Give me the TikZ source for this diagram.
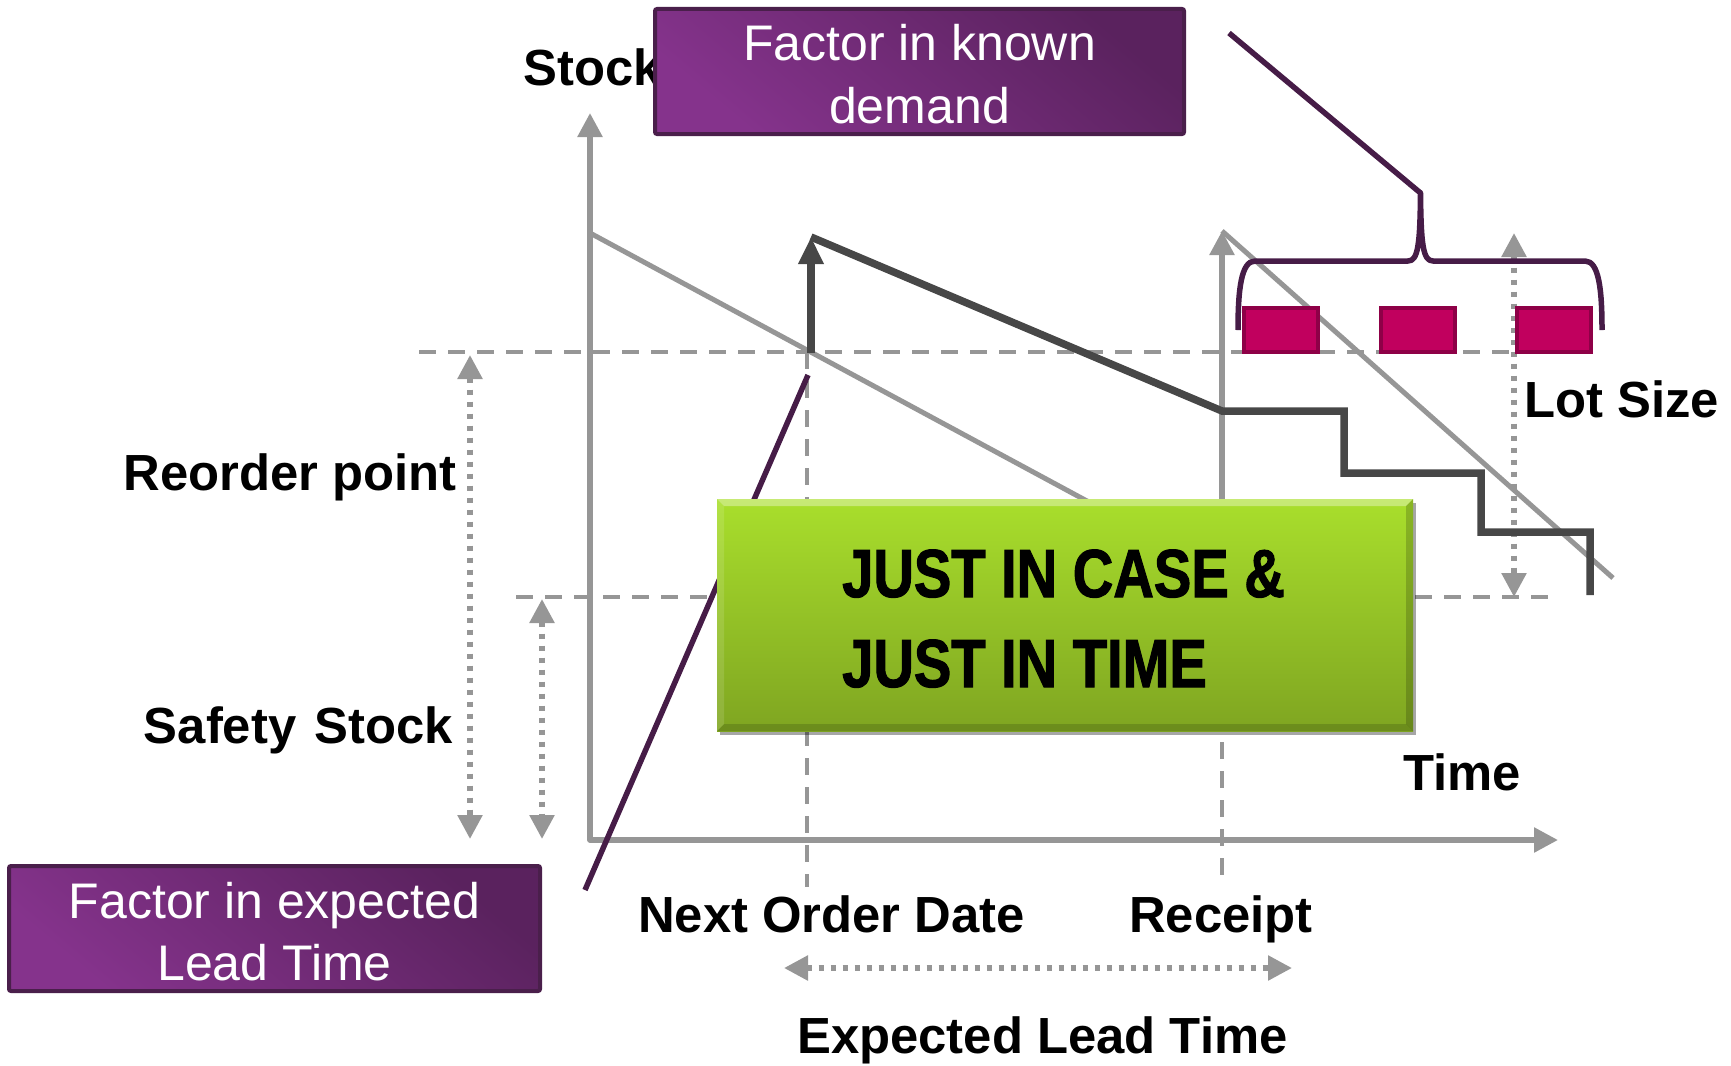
\documentclass[tikz,border=0pt]{standalone}
\usepackage{fontspec}
\setmainfont{Liberation Sans}
\newfontfamily\headfont{Liberation Sans}[FakeStretch=0.825,FakeBold=1.5]
\usetikzlibrary{arrows.meta,shadows}

\definecolor{axisgray}{HTML}{969696}
\definecolor{darkline}{HTML}{474747}
\definecolor{plum}{HTML}{461C47}
\definecolor{boxedge}{HTML}{4A1F4B}
\definecolor{boxlight}{HTML}{85338C}
\definecolor{boxdark}{HTML}{5A225E}
\definecolor{lotfill}{HTML}{C1005E}
\definecolor{lotedge}{HTML}{8E0047}
\definecolor{greentop}{HTML}{A9DF2C}
\definecolor{greenbot}{HTML}{7FA521}

\begin{document}
\begin{tikzpicture}[x=1pt,y=-1pt,
  axis/.style={draw=axisgray, line width=5.5pt},
  guide/.style={draw=axisgray, line width=4pt, dash pattern=on 17pt off 12pt},
  span/.style={draw=axisgray, line width=5.5pt, dash pattern=on 5.5pt off 6.5pt,
    {Triangle[length=24pt,width=24pt]}-{Triangle[length=24pt,width=24pt]}},
  stockline/.style={draw=darkline, line width=7.5pt},
  callout/.style={draw=plum, line width=5.5pt},
  lbl/.style={inner sep=0pt, text=black, font=\fontsize{50.8pt}{60pt}\selectfont\bfseries},
  wlbl/.style={inner sep=0pt, text=white, font=\fontsize{50pt}{60pt}\selectfont},
  jlbl/.style={inner sep=0pt, text=black, font=\headfont\bfseries\fontsize{68pt}{80pt}\selectfont},
  notebox/.style={rectangle, draw=boxedge, line width=4pt, rounded corners=2pt,
    top color=boxdark, bottom color=boxlight, shading angle=-40, inner sep=0pt},
  lotbox/.style={rectangle, draw=lotedge, fill=lotfill, line width=4pt, inner sep=0pt,
    minimum width=74pt, minimum height=44pt},
  jbox/.style={rectangle, inner sep=0pt, top color=greentop, bottom color=greenbot,
    drop shadow={shadow xshift=3pt, shadow yshift=-4pt, opacity=0.35, fill=black}}
]
\useasboundingbox (0,0) rectangle (1731,1065);

% key points of the chart
\coordinate (O) at (590,840);
\coordinate (ytip) at (590,113);
\coordinate (xtip) at (1558,840);
\coordinate (rcptop) at (1222,231);
\coordinate (rcpss) at (1222,597);
\coordinate (ordtop) at (811,237);
\coordinate (ordbase) at (811,353);

% saw-tooth of the plain stock level
\draw[axis, line width=5pt] (590,233) -- (1150,535);
\draw[axis, -{Triangle[length=24pt,width=24pt]}] (rcpss) -- (rcptop);
\draw[axis, line width=5pt] (rcptop) -- (1613,578);

% reorder point and safety stock levels
\draw[guide] (419,352) -- (1557,352);
\draw[guide] (516,597) -- (1559,597);
\draw[guide] (807,352) -- (807,887);
\draw[guide] (rcpss) -- (1222,882);

% axes
\draw[axis, line join=round, {Triangle[length=24pt,width=24pt]}-{Triangle[length=24pt,width=24pt]}]
  (ytip) -- (O) -- (xtip);

% dimension arrows
\draw[span] (470,355) -- (470,839);
\draw[span] (542,599) -- (542,839);
\draw[span] (1514,233) -- (1514,597);
\draw[span] (784,968) -- (1292,968);

% stock with staggered lot deliveries
\draw[stockline, -{Triangle[length=27pt,width=24pt]}] (ordbase) -- (ordtop);
\draw[stockline, line join=miter] (ordtop) -- (1222,411) -- (1344,411) -- (1344,473)
  -- (1481,473) -- (1481,532) -- (1590,532) -- (1590,595);

% axis and level labels
\node[lbl, anchor=base west] (stock) at (523,85) {Stock};
\node[lbl, anchor=base east] (rop) at (457,490) {Reorder point};
\node[lbl, anchor=base east] (ss) at (453,743) {Safety\hspace{4pt} Stock};
\node[lbl, anchor=base west] (lot) at (1524,417) {Lot Size};
\node[lbl, anchor=base west] (time) at (1403,790) {Time};
\node[lbl, anchor=base west] (nod) at (638,932) {Next Order Date};
\node[lbl, anchor=base west] (rcp) at (1129,932) {Receipt};
\node[lbl, anchor=base west] (elt) at (797,1053) {Expected Lead Time};

% callout lines
\coordinate (ltfoot) at (585,890);
\coordinate (lthead) at (808,375);
\draw[callout] (lthead) -- (ltfoot);
\coordinate (bracetip) at (1420.5,193);
\coordinate (kdfoot) at (1229,33);
\draw[callout] (kdfoot) -- (bracetip);

% central banner
\node[jbox, minimum width=696pt, minimum height=232pt] (jit) at (1065,615) {};
\fill[white, opacity=0.35] (717,499) -- (1413,499) -- (1406,506) -- (724,506) -- cycle;
\fill[black, opacity=0.18] (1413,499) -- (1413,731) -- (1406,724) -- (1406,506) -- cycle;
\fill[black, opacity=0.15] (717,731) -- (1413,731) -- (1406,724) -- (724,724) -- cycle;
\fill[white, opacity=0.12] (717,499) -- (724,506) -- (724,724) -- (717,731) -- cycle;
\node[jlbl, anchor=base west] (j1) at (842,597) {JUST IN CASE \&};
\node[jlbl, anchor=base west] (j2) at (842,687) {JUST IN TIME};

% lots
\node[lotbox] (lot1) at (1281,330) {};
\node[lotbox] (lot2) at (1417.5,330) {};
\node[lotbox] (lot3) at (1553.5,330) {};

% brace over the lots
\draw[callout, line join=round] (1238,330) .. controls (1238,290) and (1241,261) .. (1255,261)
  -- (1408,261) .. controls (1418,261) and (1420,245) .. (bracetip)
  .. controls (1421,245) and (1423,261) .. (1433,261)
  -- (1585,261) .. controls (1599,261) and (1602,290) .. (1602,330);

% note boxes
\node[notebox, minimum width=529pt, minimum height=125pt] (known) at (919.5,71.5) {};
\node[wlbl, anchor=base] (k1) at (919.5,60) {Factor in known};
\node[wlbl, anchor=base] (k2) at (919.5,123) {demand};
\node[notebox, minimum width=531pt, minimum height=125pt] (expected) at (274.5,928.5) {};
\node[wlbl, anchor=base] (e1) at (274.5,918) {Factor in expected};
\node[wlbl, anchor=base] (e2) at (274.5,980) {Lead Time};
\end{tikzpicture}
\end{document}
